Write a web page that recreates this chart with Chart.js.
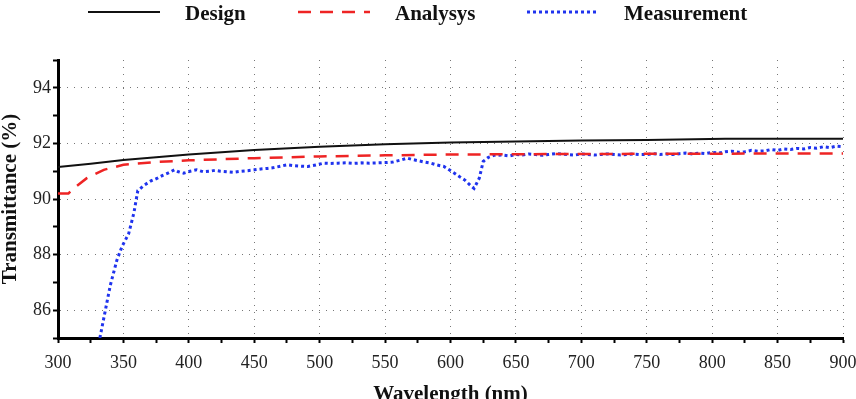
<!DOCTYPE html>
<html>
<head>
<meta charset="utf-8">
<script src="https://cdn.jsdelivr.net/npm/chart.js@4"></script>
<style>
  html, body { margin: 0; padding: 0; background: #fff; }
  #wrap { position: relative; width: 856px; height: 399px; overflow: hidden; }
  #legend { position: absolute; left: 0; top: 0; width: 856px; height: 28px; font: bold 21px "Liberation Serif", serif; color: #111; }
  .item { position: absolute; top: 0; height: 26px; display: flex; align-items: center; white-space: nowrap; }
  .item svg { display: block; margin-right: 25px; }
</style>
</head>
<body>
<div id="wrap">
  <canvas id="chart" width="856" height="399"></canvas>
  <div id="legend"></div>
</div>
<script>
const seriesNames = ['Design', 'Analysys', 'Measurement']

// Design (solid black)
const designNm = [300, 325, 350, 375, 400, 450, 500, 550, 600, 650, 700, 750, 810, 850, 900]
const designT = [91.15, 91.27, 91.4, 91.5, 91.6, 91.76, 91.88, 91.97, 92.03, 92.07, 92.1, 92.12, 92.17, 92.17, 92.17]

// Analysys (red dashed)
const analysisNm = [300, 308, 312, 322, 335, 350, 375, 400, 450, 500, 550, 600, 700, 800, 900]
const analysisT = [90.2, 90.2, 90.38, 90.75, 91.05, 91.23, 91.33, 91.39, 91.47, 91.53, 91.57, 91.6, 91.62, 91.63, 91.64]

// Measurement (blue dotted)
const measureNm = [332, 336, 340, 345, 349, 354, 358, 361, 366, 371, 376, 380, 384, 389, 392, 396,
  401, 406, 411, 416, 420, 424, 429, 434, 440, 445, 450, 455, 460, 465, 470, 475, 480, 486, 491, 497,
  503, 508, 514, 520, 526, 532, 538, 544, 550, 556, 562, 567, 571, 575, 580, 585, 590, 595, 599,
  603, 607, 611, 615, 618, 622, 625, 629, 633, 640, 645, 650, 655, 660, 665, 670, 675, 680, 685,
  690, 695, 700, 705, 710, 715, 720, 725, 730, 735, 740, 745, 750, 755, 760, 765, 770, 775, 780,
  785, 790, 795, 800, 805, 810, 815, 820, 825, 830, 835, 840, 845, 850, 855, 860, 865, 870, 875,
  880, 885, 890, 895, 900]
const measureT = [85.0, 85.95, 86.9, 87.8, 88.3, 88.75, 89.5, 90.3, 90.5, 90.65, 90.75, 90.85, 90.93, 91.05, 90.98, 90.93,
  91.0, 91.05, 90.98, 91.0, 91.03, 91.0, 90.98, 90.96, 91.0, 91.02, 91.05, 91.08, 91.1, 91.13, 91.18, 91.23, 91.2, 91.18, 91.17, 91.22,
  91.29, 91.28, 91.29, 91.3, 91.28, 91.3, 91.29, 91.3, 91.31, 91.33, 91.4, 91.47, 91.42, 91.38, 91.33, 91.29, 91.22, 91.17, 91.05,
  90.93, 90.8, 90.68, 90.5, 90.38, 90.75, 91.35, 91.5, 91.57, 91.58, 91.55, 91.6, 91.58, 91.62, 91.6, 91.57, 91.6, 91.63, 91.62,
  91.6, 91.58, 91.62, 91.6, 91.58, 91.6, 91.62, 91.6, 91.58, 91.6, 91.62, 91.6, 91.6, 91.63, 91.6, 91.62, 91.6, 91.63, 91.65,
  91.62, 91.65, 91.63, 91.68, 91.65, 91.7, 91.72, 91.68, 91.7, 91.75, 91.72, 91.73, 91.78, 91.75, 91.8, 91.78, 91.82, 91.8, 91.85,
  91.83, 91.88, 91.85, 91.9, 91.88]

const xLabelStep = 50
const yLabelStep = 2

const pts = (xs, ys) => xs.map((x, i) => ({ x: x, y: ys[i] }))

const styles = [
  { color: '#111111', width: 2, dash: [] },
  { color: '#ee2424', width: 2.5, dash: [13, 9] },
  { color: '#1f33ee', width: 3, dash: [3, 3] }
]

const serif = '"Liberation Serif", "Times New Roman", serif'

const chart = new Chart(document.getElementById('chart').getContext('2d'), {
  type: 'line',
  data: {
    datasets: [
      { label: seriesNames[0], data: pts(designNm, designT) },
      { label: seriesNames[1], data: pts(analysisNm, analysisT) },
      { label: seriesNames[2], data: pts(measureNm, measureT) }
    ].map((d, i) => Object.assign(d, {
      borderColor: styles[i].color,
      borderWidth: styles[i].width,
      borderDash: styles[i].dash,
      fill: false,
      pointRadius: 0,
      tension: 0
    }))
  },
  options: {
    responsive: false,
    animation: false,
    layout: { padding: { top: 60, right: 13, left: 0, bottom: 0 } },
    plugins: {
      legend: { display: false },
      tooltip: { enabled: false }
    },
    scales: {
      x: {
        type: 'linear',
        min: 300,
        max: 900,
        afterFit: s => { s.height = 61; s.paddingLeft = 0; s.paddingRight = 0 },
        ticks: {
          stepSize: 25,
          autoSkip: false,
          maxRotation: 0,
          padding: 9,
          color: '#222',
          font: { family: serif, size: 18 },
          callback: v => v % xLabelStep === 0 ? v : ''
        },
        grid: {
          color: c => (c.tick && c.tick.value % xLabelStep === 0 && c.tick.value > 300) ? '#777' : 'rgba(0,0,0,0)',
          lineWidth: 1,
          tickColor: '#000',
          tickLength: 5,
          tickWidth: 2
        },
        border: { color: '#000', width: 3, dash: [1, 6] },
        title: {
          display: true,
          text: 'Wavelength (nm)',
          color: '#111',
          font: { family: serif, size: 21, weight: 'bold' },
          padding: { top: 0, bottom: -8 }
        }
      },
      y: {
        min: 85,
        max: 95,
        afterFit: s => { s.width = 58 },
        ticks: {
          stepSize: 1,
          padding: 2,
          color: '#222',
          font: { family: serif, size: 18 },
          callback: v => v % yLabelStep === 0 ? v : ''
        },
        grid: {
          color: c => (c.tick && c.tick.value % yLabelStep === 0) ? '#777' : 'rgba(0,0,0,0)',
          lineWidth: 1,
          tickColor: '#000',
          tickLength: 5,
          tickWidth: 2
        },
        border: { color: '#000', width: 3, dash: [1, 6] },
        title: {
          display: true,
          text: 'Transmittance (%)',
          color: '#111',
          font: { family: serif, size: 21, weight: 'bold' },
          padding: { top: -2, bottom: 0 }
        }
      }
    }
  }
})

// legend built from the datasets
const legendLeft = [88, 298, 527]
const legend = document.getElementById('legend')
chart.data.datasets.forEach((d, i) => {
  const item = document.createElement('div')
  item.className = 'item'
  item.style.left = legendLeft[i] + 'px'
  item.innerHTML = '<svg width="72" height="26"><line x1="0" y1="12" x2="72" y2="12" stroke="' + d.borderColor +
    '" stroke-width="' + d.borderWidth + '" stroke-dasharray="' + (d.borderDash.length ? d.borderDash.join(' ') : 'none') +
    '"/></svg><span>' + d.label + '</span>'
  legend.appendChild(item)
})
</script>
</body>
</html>
